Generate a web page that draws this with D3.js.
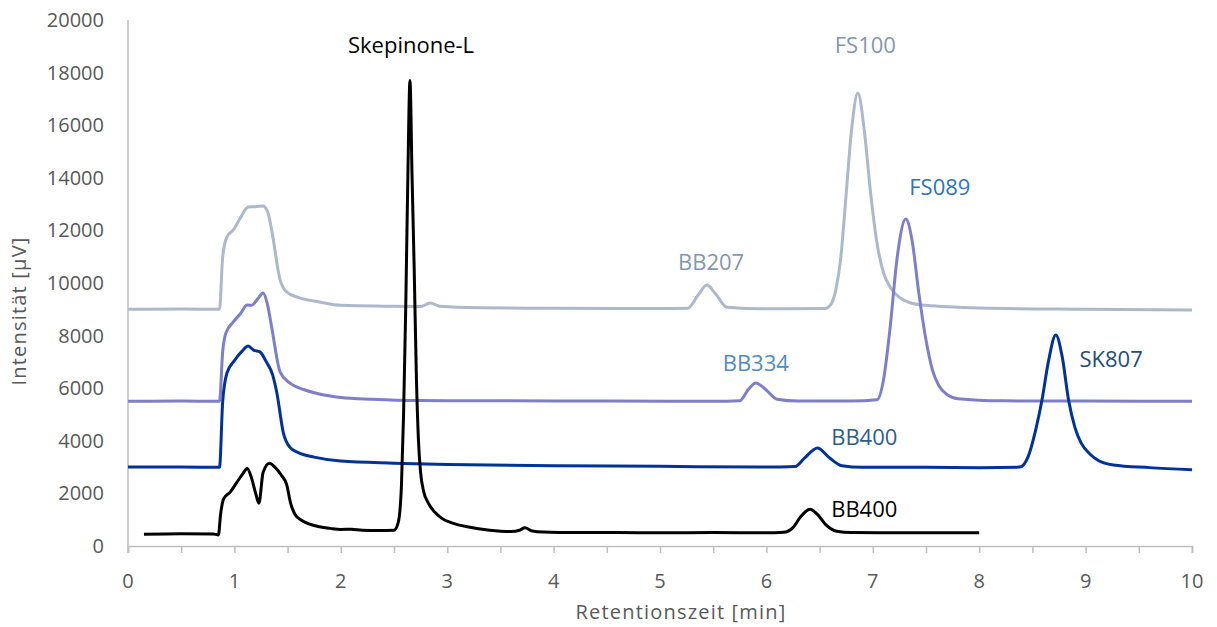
<!DOCTYPE html>
<html>
<head>
<meta charset="utf-8">
<script src="https://cdn.jsdelivr.net/npm/d3@7"></script>
<style>
  body { margin: 0; background: #fff; }
  svg { display: block; font-family: "Open Sans", sans-serif; }
</style>
</head>
<body>
<svg id="chart" width="1217" height="627"></svg>
<script>
// axis values
let xTicks = [0, 1, 2, 3, 4, 5, 6, 7, 8, 9, 10];
let xMinorTicks = d3.range(0, 10.01, 0.5);
let yTicks = [0, 2000, 4000, 6000, 8000, 10000, 12000, 14000, 16000, 18000, 20000];

// chromatogram traces [min, µV]
let skepinoneTrace = [
  [0.15, 450], [0.5, 470], [0.8, 460], [0.85, 420], [0.87, 1200], [0.9, 1800], [0.96, 2050],
  [1.02, 2400], [1.08, 2750], [1.12, 2950], [1.16, 2600], [1.2, 2000], [1.23, 1630],
  [1.27, 2800], [1.33, 3150], [1.38, 3000], [1.44, 2700], [1.49, 2350], [1.53, 1600],
  [1.57, 1200], [1.63, 980], [1.7, 840], [1.8, 730], [1.9, 670], [2.0, 630], [2.1, 640],
  [2.2, 600], [2.35, 590], [2.5, 600], [2.54, 900], [2.57, 2300], [2.59, 5000], [2.61, 9000],
  [2.63, 14000], [2.65, 17700], [2.67, 14000], [2.69, 10500], [2.71, 6500], [2.73, 4000],
  [2.75, 2800], [2.78, 2050], [2.82, 1650], [2.88, 1300], [2.95, 1050], [3.05, 870],
  [3.2, 720], [3.4, 600], [3.6, 550], [3.68, 600], [3.73, 690], [3.8, 570], [3.9, 530],
  [4.2, 510], [4.6, 510], [5.0, 505], [5.5, 510], [6.0, 500], [6.16, 520], [6.25, 700],
  [6.32, 1100], [6.41, 1400], [6.48, 1200], [6.56, 800], [6.66, 560], [6.8, 510], [7.2, 500],
  [7.6, 505], [8.0, 500]
];

let sk807Trace = [
  [0, 3000], [0.5, 3000], [0.86, 2990], [0.89, 5500], [0.93, 6580], [1.0, 7050], [1.07, 7400],
  [1.13, 7600], [1.18, 7450], [1.24, 7380], [1.3, 7000], [1.36, 6500], [1.4, 5800],
  [1.46, 4300], [1.52, 3760], [1.6, 3550], [1.75, 3380], [2.0, 3230], [2.5, 3150],
  [3.0, 3100], [4.0, 3050], [5.0, 3030], [6.0, 3000], [6.27, 3020], [6.36, 3350], [6.48, 3730],
  [6.58, 3400], [6.71, 3050], [6.9, 2990], [7.5, 2990], [8.0, 2980], [8.38, 3000],
  [8.46, 3400], [8.53, 4400], [8.59, 5550], [8.65, 7000], [8.72, 8020], [8.78, 7200],
  [8.84, 5550], [8.9, 4500], [8.96, 3900], [9.04, 3500], [9.12, 3250], [9.26, 3080],
  [9.6, 2980], [10.0, 2900]
];

let fs089Trace = [
  [0, 5500], [0.5, 5510], [0.86, 5500], [0.89, 7400], [0.92, 8100], [0.99, 8520],
  [1.06, 8850], [1.12, 9160], [1.16, 9150], [1.22, 9400], [1.27, 9620], [1.31, 9200],
  [1.35, 8330], [1.43, 6610], [1.52, 6200], [1.65, 5950], [1.8, 5780], [2.0, 5650],
  [2.3, 5580], [2.7, 5530], [3.5, 5520], [4.5, 5510], [5.5, 5500], [5.75, 5520],
  [5.83, 5950], [5.9, 6200], [5.98, 6000], [6.1, 5580], [6.3, 5510], [6.8, 5510],
  [7.04, 5560], [7.1, 6300], [7.16, 8200], [7.23, 11000], [7.31, 12430], [7.37, 11600],
  [7.43, 9700], [7.5, 7830], [7.56, 6700], [7.62, 6100], [7.7, 5750], [7.8, 5600],
  [8.2, 5520], [9.0, 5510], [10.0, 5500]
];

let fs100Trace = [
  [0, 9000], [0.5, 9010], [0.86, 9000], [0.89, 11000], [0.93, 11750], [0.99, 12020],
  [1.06, 12500], [1.13, 12890], [1.2, 12900], [1.27, 12930], [1.32, 12600], [1.35, 12020],
  [1.43, 10110], [1.49, 9660], [1.6, 9450], [1.8, 9280], [2.0, 9150], [2.4, 9120],
  [2.75, 9110], [2.84, 9240], [2.93, 9120], [3.3, 9060], [4.0, 9040], [5.0, 9030],
  [5.26, 9040], [5.36, 9550], [5.44, 9920], [5.52, 9600], [5.63, 9080], [6.0, 9020],
  [6.55, 9030], [6.6, 9150], [6.65, 9700], [6.7, 11000], [6.75, 13400], [6.8, 15800],
  [6.86, 17220], [6.92, 15800], [6.98, 13400], [7.04, 11500], [7.1, 10400], [7.17, 9800],
  [7.25, 9450], [7.35, 9250], [7.5, 9150], [8.0, 9050], [9.0, 9000], [10.0, 8970]
];

// peak labels [min, µV, text]
let peakLabels = [
  [2.66, 19030, "Skepinone-L"],
  [6.93, 19030, "FS100"],
  [7.63, 13630, "FS089"],
  [5.48, 10770, "BB207"],
  [5.9, 6960, "BB334"],
  [6.92, 4150, "BB400"],
  [9.24, 7080, "SK807"],
  [6.92, 1410, "BB400"]
];
let labelColors = ["#000000", "#8497B0", "#2E75B6", "#8497B0", "#4F8CC9", "#2F5D8A", "#1F4E79", "#000000"];

let traces = [fs100Trace, fs089Trace, sk807Trace, skepinoneTrace];
let traceColors = ["#ADB9CA", "#7E7ECB", "#003399", "#000000"];

let svg = d3.select("#chart");
let plotLeft = 128, plotRight = 1192, plotTop = 20, plotBottom = 546;

let x = d3.scaleLinear().domain([0, 10]).range([plotLeft, plotRight]);
let y = d3.scaleLinear().domain([0, 20000]).range([plotBottom, plotTop]);

let axisColor = "#BFBFBF";
let textColor = "#595959";

// x axis with a tick every half minute
let xAxis = svg.append("g")
  .attr("transform", "translate(0," + plotBottom + ")")
  .call(d3.axisBottom(x).tickValues(xMinorTicks).tickSize(7).tickFormat(""));
xAxis.select(".domain").attr("stroke", axisColor).attr("stroke-width", 1.5);
xAxis.selectAll(".tick line").attr("stroke", axisColor).attr("stroke-width", 1.5);

svg.append("g").selectAll("text")
  .data(xTicks).enter().append("text")
  .attr("x", function (d) { return x(d); })
  .attr("y", plotBottom + 42)
  .attr("text-anchor", "middle")
  .attr("fill", textColor)
  .style("font-size", "20px")
  .text(function (d) { return d; });

// y axis: line only, labels on the left
svg.append("line")
  .attr("x1", plotLeft).attr("x2", plotLeft)
  .attr("y1", plotTop).attr("y2", plotBottom + 7)
  .attr("stroke", axisColor).attr("stroke-width", 1.5);

svg.append("g").selectAll("text")
  .data(yTicks).enter().append("text")
  .attr("x", 104)
  .attr("y", function (d) { return y(d); })
  .attr("dy", "0.35em")
  .attr("text-anchor", "end")
  .attr("fill", textColor)
  .style("font-size", "20px")
  .text(function (d) { return d; });

// axis titles
svg.append("text")
  .attr("x", (plotLeft + plotRight) / 2 + 21)
  .attr("y", 619)
  .attr("text-anchor", "middle")
  .attr("fill", textColor)
  .style("font-size", "20px")
  .style("letter-spacing", "1.2px")
  .text("Retentionszeit [min]");

svg.append("text")
  .attr("transform", "translate(26," + 311 + ") rotate(-90)")
  .attr("text-anchor", "middle")
  .attr("fill", textColor)
  .style("font-size", "20px")
  .style("letter-spacing", "1.2px")
  .text("Intensität [µV]");

// traces
let line = d3.line()
  .x(function (d) { return x(d[0]); })
  .y(function (d) { return y(d[1]); })
  .curve(d3.curveMonotoneX);

svg.append("g").selectAll("path")
  .data(traces).enter().append("path")
  .attr("d", line)
  .attr("fill", "none")
  .attr("stroke", function (d, i) { return traceColors[i]; })
  .attr("stroke-width", 3)
  .attr("stroke-linejoin", "round");

// peak names
svg.append("g").selectAll("text")
  .data(peakLabels).enter().append("text")
  .attr("x", function (d) { return x(d[0]); })
  .attr("y", function (d) { return y(d[1]); })
  .attr("dy", "0.35em")
  .attr("text-anchor", "middle")
  .attr("fill", function (d, i) { return labelColors[i]; })
  .style("font-size", "22px")
  .text(function (d) { return d[2]; });
</script>
</body>
</html>
